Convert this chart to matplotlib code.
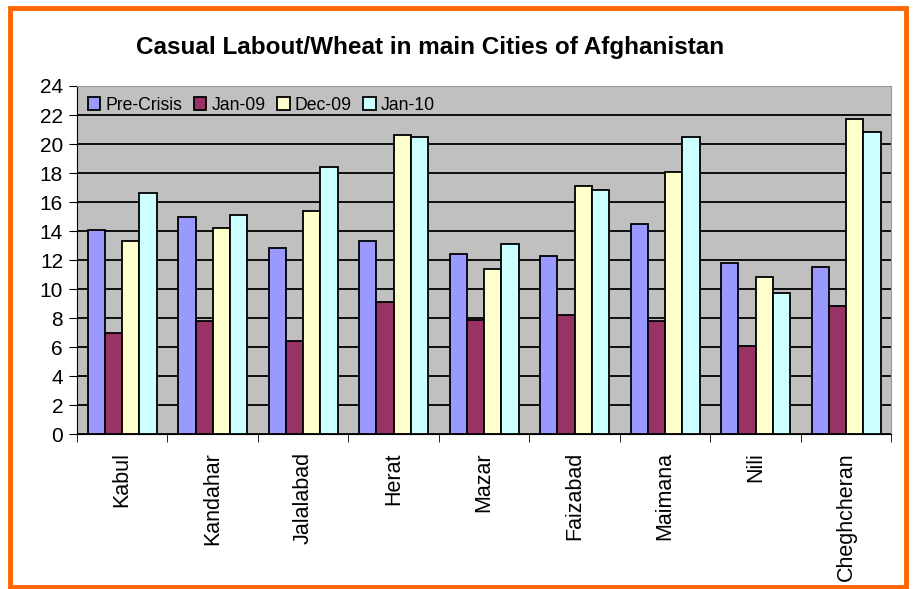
import numpy as np
import matplotlib
matplotlib.use('Agg')
import matplotlib.pyplot as plt
from matplotlib.patches import Rectangle

plt.rcParams['font.family'] = ['Liberation Sans', 'DejaVu Sans']

# Data
cities = ['Kabul', 'Kandahar', 'Jalalabad', 'Herat', 'Mazar', 'Faizabad', 'Maimana', 'Nili', 'Cheghcheran']
pre_crisis = [14.1, 15.0, 12.8, 13.3, 12.4, 12.3, 14.5, 11.8, 11.5]
jan_09 = [7.0, 7.8, 6.4, 9.1, 7.9, 8.2, 7.8, 6.1, 8.8]
dec_09 = [13.3, 14.2, 15.4, 20.6, 11.4, 17.1, 18.1, 10.8, 21.7]
jan_10 = [16.6, 15.1, 18.4, 20.5, 13.1, 16.8, 20.5, 9.7, 20.8]
series_names = ['Pre-Crisis', 'Jan-09', 'Dec-09', 'Jan-10']
colors = ['#9999FF', '#993366', '#FFFFCC', '#CCFFFF']

fig = plt.figure(figsize=(9.13, 5.89), dpi=100)
ax = fig.add_axes([0.0843, 0.263, 0.892, 0.591])
ax.set_facecolor('#C0C0C0')

# orange frame around the whole chart
fig.patches.append(Rectangle((0.011, 0.004), 0.981, 0.982, transform=fig.transFigure,
                             fill=False, edgecolor='#FF6600', linewidth=3.5))

x = np.arange(len(cities))
w = 0.19
all_series = [pre_crisis, jan_09, dec_09, jan_10]
for i, vals in enumerate(all_series):
    ax.bar(x + (i - 1.5) * w, vals, width=w, color=colors[i], edgecolor='black',
           linewidth=1.3, label=series_names[i], zorder=3)

ax.set_ylim(0, 24)
ax.set_yticks(np.arange(0, 25, 2))
ax.set_xlim(-0.5, len(cities) - 0.5)
ax.yaxis.grid(True, color='black', linewidth=1.3, zorder=0)
ax.set_axisbelow(True)

ax.set_xticks(x)
ax.set_xticklabels(cities, rotation=90, fontsize=15.5)
ax.set_xticks(np.arange(-0.5, len(cities), 1), minor=True)
ax.tick_params(axis='x', which='major', length=0, pad=13)
ax.tick_params(axis='x', which='minor', length=6, direction='out')
ax.tick_params(axis='y', labelsize=15, length=6, direction='out', pad=4)

ax.spines['top'].set_color('#999999')
ax.spines['right'].set_color('#999999')

ax.legend(loc='upper left', bbox_to_anchor=(-0.006, 1.015), ncol=4, frameon=False,
          fontsize=12.7, handlelength=0.7, handleheight=0.7, handletextpad=0.3,
          columnspacing=0.65)

fig.text(0.471, 0.920, 'Casual Labout/Wheat in main Cities of Afghanistan',
         ha='center', va='center', fontsize=17.5, fontweight='bold')

plt.savefig('out.png', dpi=100)
